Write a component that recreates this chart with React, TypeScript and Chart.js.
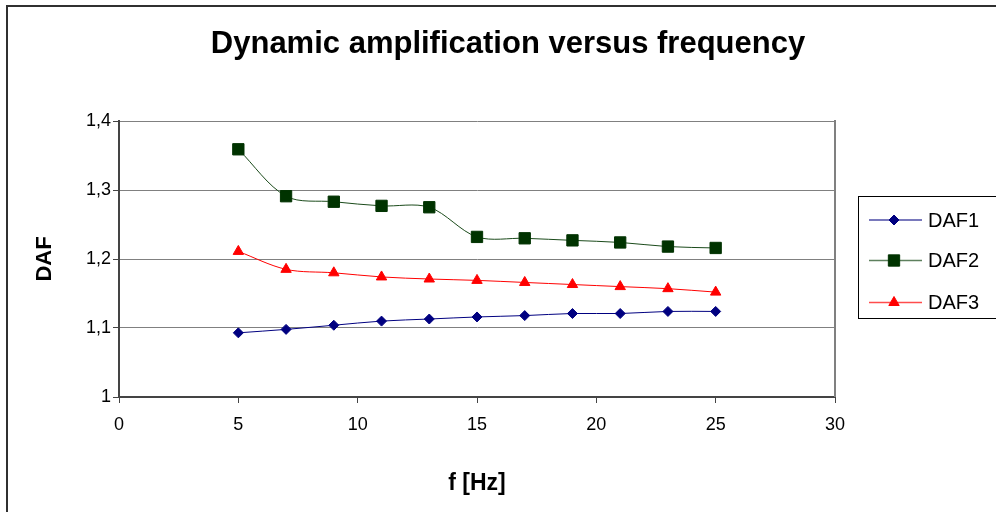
import React, { useEffect, useRef } from "react";
import { Chart, registerables } from "chart.js";

Chart.register(...registerables);

const TITLE = "Dynamic amplification versus frequency";
const X_TITLE = "f [Hz]";
const Y_TITLE = "DAF";

const freq = [5, 7, 9, 11, 13, 15, 17, 19, 21, 23, 25];
const daf1 = [1.093, 1.098, 1.104, 1.11, 1.113, 1.116, 1.118, 1.121, 1.121, 1.124, 1.124];
const daf2 = [1.359, 1.291, 1.283, 1.277, 1.275, 1.232, 1.23, 1.227, 1.224, 1.218, 1.216];
const daf3 = [1.211, 1.185, 1.18, 1.174, 1.171, 1.169, 1.166, 1.163, 1.16, 1.157, 1.152];
const seriesNames = ["DAF1", "DAF2", "DAF3"];

const FONT = "'Liberation Sans', Arial, sans-serif";

const toPts = (ys: number[]) => ys.map((y, i) => ({ x: freq[i], y }));

function drawMarker(ctx: CanvasRenderingContext2D, style: string, r: number, x: number, y: number) {
  ctx.beginPath();
  if (style === "rectRot") {
    ctx.moveTo(x - r, y);
    ctx.lineTo(x, y - r);
    ctx.lineTo(x + r, y);
    ctx.lineTo(x, y + r);
  } else if (style === "rect") {
    const s = r * Math.SQRT1_2;
    ctx.rect(x - s, y - s, 2 * s, 2 * s);
  } else {
    const h = r * 1.5;
    const w = (r * Math.sqrt(3)) / 2;
    ctx.moveTo(x, y - r);
    ctx.lineTo(x + w, y + h - r);
    ctx.lineTo(x - w, y + h - r);
  }
  ctx.closePath();
  ctx.fill();
  ctx.stroke();
}

const decor = {
  id: "decor",
  beforeDatasetsDraw(chart: any) {
    const { ctx, chartArea } = chart;
    ctx.save();
    ctx.strokeStyle = "#808080";
    ctx.lineWidth = 2;
    ctx.beginPath();
    ctx.moveTo(chartArea.right, chartArea.top - 1);
    ctx.lineTo(chartArea.right, chartArea.bottom);
    ctx.stroke();
    ctx.restore();
  },
  afterDraw(chart: any) {
    const { ctx } = chart;
    ctx.save();
    // outer frame
    ctx.strokeStyle = "#303030";
    ctx.lineWidth = 2;
    ctx.beginPath();
    ctx.moveTo(7, 600);
    ctx.lineTo(7, 6);
    ctx.lineTo(1100, 6);
    ctx.stroke();
    // title
    ctx.fillStyle = "#000";
    ctx.font = `bold 31px ${FONT}`;
    ctx.textAlign = "center";
    ctx.textBaseline = "middle";
    ctx.fillText(TITLE, 508, 44);
    // legend
    ctx.strokeStyle = "#000";
    ctx.lineWidth = 1;
    ctx.strokeRect(858.5, 196.5, 200, 122);
    const rows = [220, 260.5, 302.5];
    chart.data.datasets.forEach((ds: any, i: number) => {
      const y = rows[i];
      ctx.strokeStyle = ds.borderColor;
      ctx.globalAlpha = 0.7;
      ctx.lineWidth = 1.5;
      ctx.beginPath();
      ctx.moveTo(869, y);
      ctx.lineTo(922, y);
      ctx.stroke();
      ctx.globalAlpha = 1;
      ctx.fillStyle = ds.pointBackgroundColor;
      ctx.strokeStyle = ds.pointBorderColor;
      ctx.lineWidth = 1;
      drawMarker(ctx, ds.pointStyle, ds.pointRadius, 894, y);
      ctx.fillStyle = "#000";
      ctx.font = `20px ${FONT}`;
      ctx.textAlign = "left";
      ctx.textBaseline = "middle";
      ctx.fillText(ds.label, 928, y + 1);
    });
    ctx.restore();
  },
};

export default function App() {
  const ref = useRef<HTMLCanvasElement | null>(null);
  useEffect(() => {
    document.body.style.margin = "0";
    const canvas = ref.current;
    if (!canvas) return;
    Chart.defaults.font.family = FONT;
    const chart = new Chart(canvas, {
      type: "line",
      data: {
        datasets: [
          {
            label: seriesNames[0],
            data: toPts(daf1),
            borderColor: "#000080",
            borderWidth: 1,
            pointStyle: "rectRot",
            pointRadius: 5,
            pointBackgroundColor: "#000080",
            pointBorderColor: "#000080",
            pointBorderWidth: 1,
            tension: 0.33,
          },
          {
            label: seriesNames[1],
            data: toPts(daf2),
            borderColor: "#1a4a1a",
            borderWidth: 1,
            pointStyle: "rect",
            pointRadius: 8,
            pointBackgroundColor: "#003300",
            pointBorderColor: "#003300",
            pointBorderWidth: 1,
            tension: 0.33,
          },
          {
            label: seriesNames[2],
            data: toPts(daf3),
            borderColor: "#ff0000",
            borderWidth: 1,
            pointStyle: "triangle",
            pointRadius: 6,
            pointBackgroundColor: "#ff0000",
            pointBorderColor: "#ff0000",
            pointBorderWidth: 1,
            tension: 0.33,
          },
        ] as any,
      },
      options: {
        animation: false,
        responsive: true,
        maintainAspectRatio: false,
        layout: { padding: { top: 121, right: 161, bottom: 0, left: 0 } },
        plugins: {
          legend: { display: false },
          title: { display: false },
          tooltip: { enabled: false },
        },
        scales: {
          x: {
            type: "linear",
            min: 0,
            max: 30,
            ticks: { stepSize: 5, color: "#000", font: { size: 18 }, padding: 11 },
            grid: { drawOnChartArea: false, tickLength: 6, tickColor: "#444" },
            border: { color: "#444", width: 2 },
            title: {
              display: true,
              text: X_TITLE,
              color: "#000",
              font: { size: 23, weight: "bold" },
              padding: { top: 0, bottom: 15 },
            },
            afterFit: (s: any) => {
              s.height = 115;
            },
          },
          y: {
            min: 1,
            max: 1.4,
            ticks: {
              stepSize: 0.1,
              color: "#000",
              font: { size: 18 },
              padding: 2,
              callback: (v: any) => String(Number(Number(v).toFixed(1))).replace(".", ","),
            },
            grid: { color: "#808080", lineWidth: 1, tickLength: 6, tickColor: "#444" },
            border: { color: "#444", width: 2 },
            title: {
              display: true,
              text: Y_TITLE,
              color: "#000",
              font: { size: 22, weight: "bold" },
              padding: { top: 32, bottom: 0 },
            },
            afterFit: (s: any) => {
              s.width = 119;
            },
          },
        },
      },
      plugins: [decor],
    });
    return () => chart.destroy();
  }, []);
  return (
    <div style={{ position: "fixed", left: 0, top: 0, width: 996, height: 512, background: "#fff" }}>
      <canvas ref={ref} />
    </div>
  );
}
